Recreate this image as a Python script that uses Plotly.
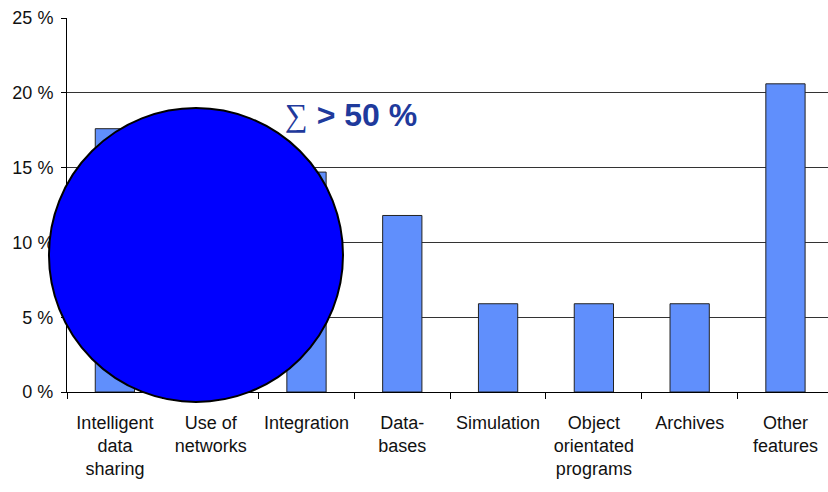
import plotly.graph_objects as go

categories = ["Intelligent<br>data<br>sharing", "Use of<br>networks", "Integration",
              "Data-<br>bases", "Simulation", "Object<br>orientated<br>programs",
              "Archives", "Other<br>features"]
shares = [17.6, 17.6, 14.7, 11.8, 5.9, 5.9, 5.9, 20.6]
y_ticks = [0, 5, 10, 15, 20, 25]
y_tick_labels = [f"{v} %" for v in y_ticks]

fig = go.Figure()
fig.add_trace(go.Bar(
    x=categories, y=shares, width=0.41,
    marker=dict(color="#608FFC", line=dict(color="#222222", width=1)),
    hoverinfo="skip",
))

# overlay circle (paper coords so it is not clipped by the plot area)
fig.add_shape(type="circle", xref="paper", yref="paper",
              x0=-0.0237, x1=0.3627, y0=-0.0267, y1=0.7594,
              fillcolor="#0000FF", line=dict(color="black", width=2), layer="above")

fig.add_annotation(x=0.2838, y=0.74, xref="paper", yref="paper", xanchor="left", yanchor="middle",
                   text="<span style='font-family:Liberation Serif'>∑</span><b> &gt; 50 %</b>",
                   showarrow=False,
                   font=dict(family="Liberation Sans, Arial", size=32, color="#1F3A9C"))

fig.update_layout(
    width=828, height=492,
    margin=dict(l=67, r=0, t=18, b=100),
    paper_bgcolor="white", plot_bgcolor="white",
    showlegend=False,
    font=dict(family="Liberation Sans, Arial", size=18, color="#111111"),
    xaxis=dict(
        type="category", range=[-0.5, 7.444], showgrid=False, zeroline=False,
        showline=True, linecolor="black", linewidth=1,
        ticks="outside", ticklen=6, tickcolor="black", tickson="boundaries",
        tickfont=dict(size=18), tickangle=0, ticklabelstandoff=14,
    ),
    yaxis=dict(
        range=[0, 25], tickmode="array", tickvals=y_ticks, ticktext=y_tick_labels,
        showgrid=True, gridcolor="#333333", gridwidth=1,
        zeroline=False, showline=True, linecolor="black", linewidth=1,
        ticks="outside", ticklen=5, tickcolor="black",
        tickfont=dict(size=18), ticklabelstandoff=4,
    ),
)

fig.write_html("out.html")
